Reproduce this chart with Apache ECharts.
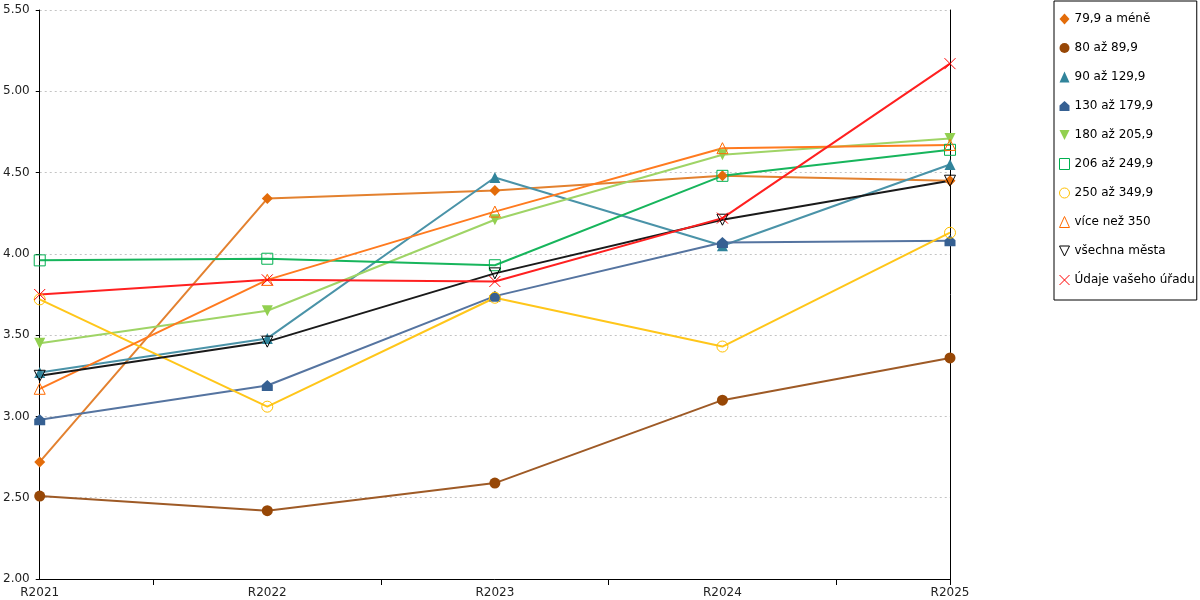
<!DOCTYPE html>
<html lang="cs">
<head>
<meta charset="utf-8">
<title>Chart</title>
<script src="https://cdn.jsdelivr.net/npm/echarts@6/dist/echarts.min.js"></script>
<style>
  html, body { margin: 0; padding: 0; background: #fff; }
  #chart { width: 1200px; height: 600px; }
</style>
</head>
<body>
<div id="chart"></div>
<script>
  var years = ['R2021', 'R2022', 'R2023', 'R2024', 'R2025'];
  var names = ['79,9 a méně', '80 až 89,9', '90 až 129,9', '130 až 179,9', '180 až 205,9',
               '206 až 249,9', '250 až 349,9', 'více než 350', 'všechna města', 'Údaje vašeho úřadu'];

  var s79 = [2.72, 4.34, 4.39, 4.48, 4.45];
  var s80 = [2.51, 2.42, 2.59, 3.10, 3.36];
  var s90 = [3.27, 3.48, 4.47, 4.05, 4.55];
  var s130 = [2.98, 3.19, 3.74, 4.07, 4.08];
  var s180 = [3.45, 3.65, 4.21, 4.61, 4.71];
  var s206 = [3.96, 3.97, 3.93, 4.48, 4.64];
  var s250 = [3.72, 3.06, 3.73, 3.43, 4.13];
  var s350 = [3.17, 3.84, 4.26, 4.65, 4.67];
  var sAll = [3.25, 3.46, 3.88, 4.21, 4.45];
  var sOffice = [3.75, 3.84, 3.83, 4.22, 5.17];

  var yTicks = [2, 2.5, 3, 3.5, 4, 4.5, 5, 5.5];
  var midTicks = ['', '', '', '', '', '', '', '', ''];

  var HOUSE = 'path://M5,0L10,4.5L10,10L0,10L0,4.5Z';
  var DOWN = 'path://M0,0L10,0L5,10Z';
  var CROSS = 'path://M0,0L10,10M10,0L0,10';

  // symbol, marker colour, line colour, hollow?
  var looks = [
    ['diamond', '#E36C0A', '#E3812F', false],
    ['circle', '#974706', '#9E5A26', false],
    ['triangle', '#31849B', '#4A93A8', false],
    [HOUSE, '#366092', '#5574A0', false],
    [DOWN, '#92D050', '#9FD466', false],
    ['rect', '#00B050', '#17B55C', true],
    ['circle', '#FFC000', '#FFC61A', true],
    ['triangle', '#FF6A00', '#FF7A1F', true],
    [DOWN, '#000000', '#1a1a1a', true],
    [CROSS, '#FF0000', '#FF2020', true]
  ];
  var values = [s79, s80, s90, s130, s180, s206, s250, s350, sAll, sOffice];

  function markStyle(l) {
    if (l[3]) return { color: 'rgba(255,255,255,0)', borderColor: l[1], borderWidth: 1 };
    return { color: l[1], borderWidth: 0 };
  }

  var series = [];
  var legendData = [];
  for (var i = 0; i < names.length; i++) {
    var l = looks[i];
    series.push({
      name: names[i],
      type: 'line',
      xAxisIndex: 0,
      data: values[i],
      symbol: l[0],
      symbolSize: 11,
      showAllSymbol: true,
      lineStyle: { color: l[2], width: 2 },
      itemStyle: markStyle(l),
      emphasis: { disabled: true },
      animation: false
    });
    legendData.push({ name: names[i], icon: l[0], itemStyle: markStyle(l) });
  }

  var chart = echarts.init(document.getElementById('chart'));
  chart.setOption({
    backgroundColor: '#fff',
    textStyle: { fontFamily: 'DejaVu Sans' },
    grid: { left: 39, right: 250, top: 10, bottom: 21, containLabel: false },
    legend: {
      orient: 'vertical',
      left: 1054,
      top: 1,
      padding: [12, 2, 14, 5],
      itemWidth: 10,
      itemHeight: 11,
      itemGap: 17,
      borderColor: '#000',
      borderWidth: 1,
      data: legendData,
      textStyle: { fontFamily: 'DejaVu Sans', fontSize: 12, color: '#000', lineHeight: 12 },
      selectedMode: false
    },
    xAxis: [{
      type: 'category',
      data: years,
      boundaryGap: false,
      position: 'bottom',
      axisLine: { show: true, lineStyle: { color: '#000', width: 1 } },
      axisTick: { show: false },
      axisLabel: { color: '#222', fontSize: 12, margin: 8, fontFamily: 'DejaVu Sans' },
      splitLine: { show: false }
    }, {
      type: 'category',
      data: midTicks,
      boundaryGap: false,
      position: 'bottom',
      axisLine: { show: false },
      axisLabel: { show: false },
      axisTick: {
        show: true,
        length: 6,
        lineStyle: { color: '#000' },
        interval: function (idx) { return idx % 2 === 1 || idx === 8; }
      },
      splitLine: { show: false }
    }],
    yAxis: [{
      type: 'value',
      min: yTicks[0],
      max: yTicks[yTicks.length - 1],
      interval: 0.5,
      axisLine: { show: true, lineStyle: { color: '#000', width: 1 } },
      axisTick: { show: true, length: 4, lineStyle: { color: '#000' } },
      axisLabel: {
        color: '#222', fontSize: 12, margin: 10, fontFamily: 'DejaVu Sans',
        formatter: function (v) { return v.toFixed(2); }
      },
      splitLine: { show: true, lineStyle: { color: '#c4c4c4', type: [2, 3], width: 1 } }
    }, {
      type: 'value',
      position: 'right',
      min: yTicks[0],
      max: yTicks[yTicks.length - 1],
      interval: 0.5,
      axisLine: { show: true, lineStyle: { color: '#000', width: 1 } },
      axisTick: { show: false },
      axisLabel: { show: false },
      splitLine: { show: false }
    }],
    series: series
  });
</script>
</body>
</html>
